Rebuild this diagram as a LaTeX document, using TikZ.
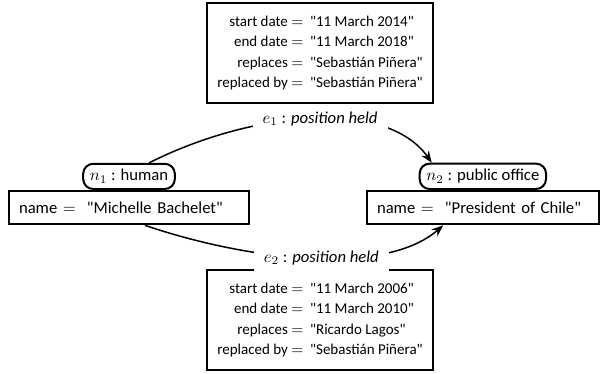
\documentclass[tikz,border=0pt]{standalone}
\usepackage{fontspec}
\setmainfont{Carlito}
\usetikzlibrary{positioning,arrows.meta}
\newcommand{\qval}[1]{\textquotedbl#1\textquotedbl}
\begin{document}
\begin{tikzpicture}[x=0.6pt,y=0.6pt,
    attrBox/.style={rectangle,draw=black,line width=1.2pt,fill=white,inner xsep=6pt,inner ysep=6pt,font=\small},
    nameBox/.style={rectangle,draw=black,line width=1.2pt,fill=white,anchor=north west,align=left,inner xsep=6pt,minimum height=20pt},
    typeLbl/.style={rectangle,rounded corners=6pt,draw=black,line width=1.2pt,fill=white,anchor=south,inner xsep=4pt,minimum height=14pt},
    edgeLbl/.style={fill=white,inner xsep=6pt,inner ysep=4pt},
    relArrow/.style={-{Stealth[length=7pt,width=5.5pt]},line width=0.9pt},
]
\useasboundingbox (0,0) rectangle (605,373);
\renewcommand{\arraystretch}{1.1}
% nodes
\node[nameBox,text width=132pt] (n1name) at (8,183) {name $=$ \ \qval{Michelle Bachelet}};
\node[typeLbl] (n1lab) at (n1name.north) {$n_1$ : human};
\node[nameBox,text width=127pt] (n2name) at (366,183) {name $=$ \ \qval{President of Chile}};
\node[typeLbl] (n2lab) at (n2name.north) {$n_2$ : public office};
% edge attributes
\node[attrBox] (attr1) at (320,320) {\begin{tabular}{@{}r@{\ $=$\ \ }l@{}}
start date & \qval{11 March 2014}\\
end date & \qval{11 March 2018}\\
replaces & \qval{Sebastián Piñera}\\
replaced by & \qval{Sebastián Piñera}
\end{tabular}};
\node[attrBox] (attr2) at (320,53) {\begin{tabular}{@{}r@{\ $=$\ \ }l@{}}
start date & \qval{11 March 2006}\\
end date & \qval{11 March 2010}\\
replaces & \qval{Ricardo Lagos}\\
replaced by & \qval{Sebastián Piñera}
\end{tabular}};
% edges
\draw[relArrow] (n1lab.34) .. controls (250,261) and (385,276) .. (n2lab.165)
    node[pos=0.53,edgeLbl] (e1lab) {$e_1$ : \textit{position held}};
\draw[relArrow] (n1name.-48) .. controls (250,112) and (385,97) .. (n2name.204)
    node[pos=0.53,edgeLbl] (e2lab) {$e_2$ : \textit{position held}};
\end{tikzpicture}
\end{document}
